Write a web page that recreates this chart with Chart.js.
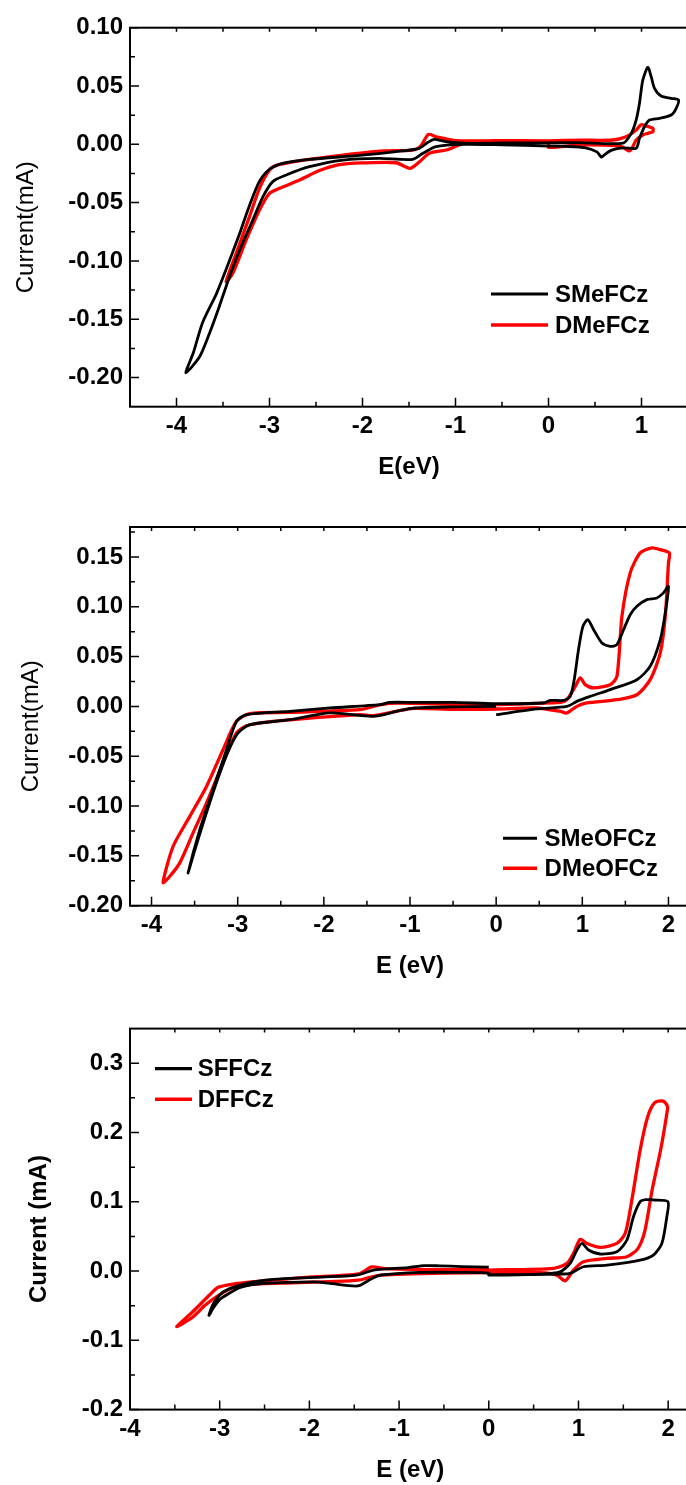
<!DOCTYPE html>
<html lang="en">
<head>
<meta charset="UTF-8" />
<title>Cyclic voltammograms</title>
<script src="https://cdn.jsdelivr.net/npm/chart.js@4"></script>
<style>
  html, body { margin: 0; padding: 0; background: #fff; overflow: hidden; }
  body { width: 686px; height: 1485px; position: relative; }
  canvas { position: absolute; left: 0; }
</style>
</head>
<body>
<canvas id="c1" width="700" height="490" style="top:0"></canvas>
<canvas id="c2" width="700" height="500" style="top:490px"></canvas>
<canvas id="c3" width="700" height="495" style="top:990px"></canvas>
<script>
// ---- panel 1 : SMeFCz / DMeFCz ----
const xTicks1 = [-4, -3, -2, -1, 0, 1];
const xMinor1 = [-3.5, -2.5, -1.5, -0.5, 0.5];
const yTicks1 = [-0.2, -0.15, -0.1, -0.05, 0, 0.05, 0.1];
const yMinor1 = [-0.175, -0.125, -0.075, -0.025, 0.025, 0.075];

const smefczE = [0, 0.33, 0.8, 0.89, 0.943, 0.978, 1.014, 1.068, 1.104, 1.14, 1.211, 1.319, 1.398,
  1.373, 1.319, 1.194, 1.086, 1.032, 0.978, 0.943, 0.8, 0.68, 0.6, 0.57, 0.52, 0.4, 0.2, 0,
  -0.5, -0.92, -1.21, -1.35, -1.46, -1.82, -2.21, -2.57, -2.82, -2.965, -3.07, -3.18, -3.32, -3.43,
  -3.54, -3.645, -3.75, -3.9, -3.82, -3.72, -3.57, -3.47, -3.32, -3.22, -3.11, -3.0, -2.86, -2.57,
  -2.03, -1.64, -1.39, -1.3, -1.23, -1.1, -0.85, -0.5, 0];
const smefczI = [0.0012, 0.0014, 0.001, 0.0094, 0.021, 0.035, 0.055, 0.066, 0.058, 0.048, 0.0414, 0.0394, 0.038,
  0.0309, 0.0251, 0.0223, 0.0208, 0.0151, 0.0051, -0.0034, -0.003, -0.005, -0.009, -0.011, -0.0065, -0.003, -0.0018, -0.0015,
  -0.0005, 0.0, -0.002, -0.0077, -0.0129, -0.012, -0.0135, -0.0192, -0.0263, -0.032, -0.0449, -0.0649, -0.0906, -0.1135,
  -0.139, -0.162, -0.182, -0.196, -0.179, -0.153, -0.128, -0.108, -0.0763, -0.0535, -0.032, -0.0214, -0.0163, -0.0129,
  -0.0095, -0.0063, -0.0034, 0.0015, 0.0042, 0.0023, 0.0008, 0.0012, 0.0012];

const dmefczE = [0, 0.35, 0.69, 0.834, 0.943, 0.996, 1.05, 1.122, 1.122, 1.068, 1.014, 0.943, 0.907, 0.87, 0.817, 0.763, 0.333, 0,
  0, -0.562, -0.92, -1.1, -1.28, -1.387, -1.49, -1.638, -2.0, -2.25, -2.462, -2.677, -2.892, -3.0, -3.108, -3.251, -3.395, -3.466,
  -3.358, -3.215, -3.108, -3.0, -2.91, -2.57, -2.21, -1.817, -1.459, -1.38, -1.29, -1.208, -0.993, -0.562, 0];
const dmefczI = [0.003, 0.0035, 0.0037, 0.0065, 0.0123, 0.0168, 0.0157, 0.0137, 0.0108, 0.0094, 0.008, 0.0037, -0.002, -0.0057, -0.0034, -0.0014, -0.0006, -0.0026,
  0.0023, 0.0023, 0.0003, -0.0049, -0.0077, -0.0149, -0.0206, -0.0158, -0.016, -0.0175, -0.0225, -0.0306, -0.0377, -0.042, -0.0563, -0.082, -0.1106, -0.1178,
  -0.0934, -0.062, -0.0377, -0.022, -0.0177, -0.0129, -0.0092, -0.0058, -0.0049, -0.002, 0.0085, 0.0065, 0.0031, 0.0031, 0.003];

// ---- panel 2 : SMeOFCz / DMeOFCz ----
const xTicks2 = [-4, -3, -2, -1, 0, 1, 2];
const xMinor2 = [-3.5, -2.5, -1.5, -0.5, 0.5, 1.5];
const yTicks2 = [-0.2, -0.15, -0.1, -0.05, 0, 0.05, 0.1, 0.15];
const yMinor2 = [-0.175, -0.125, -0.075, -0.025, 0.025, 0.075, 0.125, 0.175];

const smeofczE = [0, 0.473, 0.821, 0.937, 1.092, 1.324, 1.634, 1.788, 1.905, 1.963, 2.0,
  1.942, 1.865, 1.749, 1.634, 1.556, 1.479, 1.402, 1.324, 1.228, 1.131, 1.063, 1.007, 0.956, 0.906, 0.859, 0.782, 0.627, 0.55, 0,
  -0.5, -0.963, -1.234, -1.35, -1.93, -2.395, -2.898, -3.014, -3.13, -3.286, -3.44, -3.576,
  -3.5, -3.4, -3.26, -3.12, -3.0, -2.86, -2.395, -1.93, -1.427, -1.156, -0.963, -0.5, 0];
const smeofczI = [-0.0083, -0.0026, 0.0, 0.005, 0.01, 0.0168, 0.0268, 0.0402, 0.067, 0.0938, 0.1205,
  0.1139, 0.1088, 0.1071, 0.1004, 0.092, 0.077, 0.062, 0.0602, 0.0636, 0.077, 0.087, 0.0803, 0.057, 0.0268, 0.01, 0.006, 0.006, 0.0034, 0.0027,
  0.004, 0.004, 0.004, 0.0017, -0.0016, -0.005, -0.0083, -0.015, -0.0435, -0.0836, -0.1238, -0.167,
  -0.145, -0.117, -0.08, -0.047, -0.027, -0.0184, -0.0134, -0.0066, -0.01, -0.005, -0.0017, -0.0005, 0.0];

const dmeofczE = [0, 0.748, 0.821, 0.918, 0.976, 1.034, 1.131, 1.324, 1.402, 1.46, 1.556, 1.672, 1.808, 1.905, 2.01,
  2.0, 1.963, 1.905, 1.788, 1.634, 1.402, 1.053, 0.937, 0.821, 0.748, 0.473, 0,
  -0.5, -0.96, -1.16, -1.43, -1.582, -2.589, -2.898, -3.014, -3.17, -3.362, -3.518, -3.672, -3.79, -3.866,
  -3.75, -3.556, -3.362, -3.17, -3.014, -2.86, -2.395, -1.582, -1.39, -1.234, -0.96, -0.5, 0];
const dmeofczI = [0.0017, 0.004, 0.0067, 0.02, 0.0285, 0.0218, 0.0185, 0.0218, 0.0301, 0.0904, 0.134, 0.154, 0.159, 0.1573, 0.154,
  0.144, 0.0904, 0.0536, 0.0268, 0.0117, 0.0067, 0.0034, 0.0, -0.0066, -0.005, -0.0016, -0.0026,
  -0.003, -0.002, -0.005, -0.0093, -0.0083, -0.015, -0.0194, -0.0267, -0.0568, -0.097, -0.127, -0.157, -0.1707, -0.1767,
  -0.1406, -0.1104, -0.0803, -0.0435, -0.015, -0.0073, -0.006, -0.0033, 0.0007, 0.003, 0.003, 0.002, 0.0017];

// ---- panel 3 : SFFCz / DFFCz ----
const xTicks3 = [-4, -3, -2, -1, 0, 1, 2];
const xMinor3 = [-3.5, -2.5, -1.5, -0.5, 0.5, 1.5];
const yTicks3 = [-0.2, -0.1, 0, 0.1, 0.2, 0.3];
const yMinor3 = [-0.15, -0.05, 0.05, 0.15, 0.25];

const sffczE = [0, -0.3, -0.55, -0.72, -0.9, -1.15, -1.285, -1.47, -1.95, -2.4, -2.7, -2.957, -3.07, -3.12,
  -3.07, -3.0, -2.957, -2.77, -2.51, -1.95, -1.77, -1.46, -1.32, -1.21, -0.77, -0.3, 0,
  0, 0.573, 0.796, 0.907, 0.982, 1.038, 1.112, 1.242, 1.428, 1.54, 1.613, 1.688, 1.75, 1.836, 1.997,
  1.985, 1.93, 1.836, 1.688, 1.317, 1.056, 0.907, 0.796, 0.5, 0];
const sffczI = [0.0058, 0.0065, 0.0075, 0.0078, 0.005, 0.003, 0.0014, -0.0058, -0.0091, -0.012, -0.0178, -0.0299, -0.0467, -0.064,
  -0.053, -0.041, -0.0371, -0.0236, -0.0178, -0.0155, -0.0178, -0.0215, -0.012, -0.006, -0.002, -0.002, -0.003,
  -0.0058, -0.0043, -0.001, 0.011, 0.0303, 0.04, 0.0303, 0.0246, 0.0279, 0.0448, 0.0785, 0.1002, 0.103, 0.1026, 0.1002,
  0.0785, 0.04, 0.0231, 0.0159, 0.0087, 0.0062, -0.0034, -0.0043, -0.005, -0.005];

const dffczE = [0, 0.721, 0.871, 0.944, 1.019, 1.094, 1.242, 1.428, 1.521, 1.595, 1.688, 1.77, 1.85, 1.943, 1.992,
  1.992, 1.919, 1.821, 1.74, 1.66, 1.54, 1.317, 1.056, 0.944, 0.852, 0.759, 0.573, 0,
  -0.5, -1.2, -1.35, -1.45, -1.7, -2.2, -2.6, -2.85, -3.0, -3.16, -3.306, -3.48,
  -3.306, -3.11, -3.013, -2.72, -2.036, -1.45, -1.304, -1.157, -0.571, 0];
const dffczI = [0.0014, 0.0039, 0.011, 0.0256, 0.0458, 0.04, 0.0342, 0.04, 0.0545, 0.1026, 0.175, 0.222, 0.243, 0.2453, 0.238,
  0.233, 0.177, 0.117, 0.058, 0.032, 0.0207, 0.0183, 0.0135, 0.0014, -0.014, -0.0058, -0.0024, -0.0024,
  -0.003, -0.006, -0.01, -0.013, -0.015, -0.017, -0.019, -0.024, -0.034, -0.049, -0.067, -0.08,
  -0.0594, -0.0343, -0.0232, -0.0166, -0.009, -0.004, 0.006, 0.0035, 0.002, 0.002];

const FONT = '"Liberation Sans", Arial, sans-serif';

// frame, inward ticks and legend drawn on top of the plot
const framePlugin = {
  id: 'frame',
  afterDatasetsDraw(chart, args, opts) {
    const { ctx, chartArea: a, scales: { x, y } } = chart;
    ctx.save();
    ctx.strokeStyle = '#000';
    ctx.lineWidth = 2;
    ctx.strokeRect(a.left, a.top, a.right - a.left, a.bottom - a.top);

    ctx.lineWidth = 1.5;
    ctx.beginPath();
    const xt = (v, len, topLen) => {
      const px = x.getPixelForValue(v);
      ctx.moveTo(px, a.bottom); ctx.lineTo(px, a.bottom - len);
      ctx.moveTo(px, a.top); ctx.lineTo(px, a.top + topLen);
    };
    const yt = (v, len) => {
      const py = y.getPixelForValue(v);
      ctx.moveTo(a.left, py); ctx.lineTo(a.left + len, py);
    };
    opts.xMajor.forEach(v => xt(v, 9, 4));
    opts.xMinor.forEach(v => xt(v, 5, 4));
    opts.yMajor.forEach(v => yt(v, 9));
    opts.yMinor.forEach(v => yt(v, 5));
    ctx.stroke();

    // legend
    const lg = opts.legend;
    ctx.font = 'bold 24px ' + FONT;
    ctx.textBaseline = 'middle';
    ctx.textAlign = 'left';
    chart.data.datasets.forEach((ds, i) => {
      const ly = lg.y + i * lg.gap;
      ctx.strokeStyle = ds.borderColor;
      ctx.lineWidth = ds.borderWidth + 0.3;
      ctx.beginPath();
      ctx.moveTo(lg.x, ly);
      ctx.lineTo(lg.x + lg.len, ly);
      ctx.stroke();
      ctx.fillStyle = '#000';
      ctx.fillText(ds.label, lg.textX, ly + 1);
    });
    ctx.restore();
  }
};

function series(label, es, is, color, width) {
  return {
    label: label,
    data: es.map((e, k) => ({ x: e, y: is[k] })),
    showLine: true,
    borderColor: color,
    borderWidth: width,
    pointRadius: 0,
    tension: 0.25,
    fill: false
  };
}

function makeChart(id, c) {
  return new Chart(document.getElementById(id), {
    type: 'scatter',
    data: { datasets: c.datasets },
    options: {
      responsive: false,
      animation: false,
      devicePixelRatio: 1,
      layout: { padding: { top: c.padTop, right: c.padRight, left: 0, bottom: 0 } },
      plugins: {
        legend: { display: false },
        tooltip: { enabled: false },
        frame: { xMajor: c.xTicks, xMinor: c.xMinor, yMajor: c.yTicks, yMinor: c.yMinor, legend: c.legend }
      },
      scales: {
        x: {
          type: 'linear',
          min: c.xMin,
          max: c.xMax,
          afterBuildTicks: s => { s.ticks = c.xTicks.map(v => ({ value: v })); },
          afterFit: s => { s.height = c.xAxisH; },
          grid: { display: false, drawTicks: false },
          border: { display: false },
          ticks: {
            color: '#000', padding: 5, maxRotation: 0, autoSkip: false,
            font: { family: FONT, size: 24, weight: 'bold' },
            callback: v => String(v)
          },
          title: {
            display: true, text: c.xTitle, color: '#000',
            font: { family: FONT, size: 24, weight: 'bold' },
            padding: { top: 0, bottom: c.xTitlePad }
          }
        },
        y: {
          type: 'linear',
          min: c.yMin,
          max: c.yMax,
          afterBuildTicks: s => { s.ticks = c.yTicks.map(v => ({ value: v })); },
          afterFit: s => { s.width = 130; },
          grid: { display: false, drawTicks: false },
          border: { display: false },
          ticks: {
            color: '#000', padding: 7, autoSkip: false,
            font: { family: FONT, size: 24, weight: 'bold' },
            callback: v => v.toFixed(c.yDigits)
          },
          title: {
            display: true, text: c.yTitle, color: '#000',
            font: { family: FONT, size: 24, weight: c.yTitleWeight },
            padding: { top: c.yTitlePad, bottom: 0 }
          }
        }
      }
    },
    plugins: [framePlugin]
  });
}

makeChart('c1', {
  datasets: [series('SMeFCz', smefczE, smefczI, '#000000', 2.8), series('DMeFCz', dmefczE, dmefczI, '#ff0000', 3.3)],
  xMin: -4.5, xMax: 1.5, yMin: -0.225, yMax: 0.1,
  xTicks: xTicks1, xMinor: xMinor1, yTicks: yTicks1, yMinor: yMinor1, yDigits: 2,
  padTop: 27.7, padRight: 12, xAxisH: 83.3,
  xTitle: 'E(eV)', xTitlePad: 8.6,
  yTitle: 'Current(mA)   ', yTitleWeight: 'normal', yTitlePad: 11.6,
  legend: { x: 491, y: 294, gap: 31, len: 57, textX: 555 }
});

makeChart('c2', {
  datasets: [series('SMeOFCz', smeofczE, smeofczI, '#000000', 2.8), series('DMeOFCz', dmeofczE, dmeofczI, '#ff0000', 3.3)],
  xMin: -4.25, xMax: 2.25, yMin: -0.2, yMax: 0.18,
  xTicks: xTicks2, xMinor: xMinor2, yTicks: yTicks2, yMinor: yMinor2, yDigits: 2,
  padTop: 37, padRight: 10, xAxisH: 84.3,
  xTitle: 'E (eV)', xTitlePad: 9.6,
  yTitle: 'Current(mA)   ', yTitleWeight: 'normal', yTitlePad: 17.3,
  legend: { x: 503, y: 348.3, gap: 30, len: 34, textX: 544.6 }
});

makeChart('c3', {
  datasets: [series('SFFCz', sffczE, sffczI, '#000000', 2.8), series('DFFCz', dffczE, dffczI, '#ff0000', 3.3)],
  xMin: -4, xMax: 2.25, yMin: -0.2, yMax: 0.35,
  xTicks: xTicks3, xMinor: xMinor3, yTicks: yTicks3, yMinor: yMinor3, yDigits: 1,
  padTop: 38.6, padRight: 9.4, xAxisH: 75.4,
  xTitle: 'E (eV)', xTitlePad: 0.6,
  yTitle: 'Current (mA)   ', yTitleWeight: 'bold', yTitlePad: 24.6,
  legend: { x: 155, y: 78.6, gap: 30.6, len: 37, textX: 197.7 }
});
</script>
</body>
</html>
